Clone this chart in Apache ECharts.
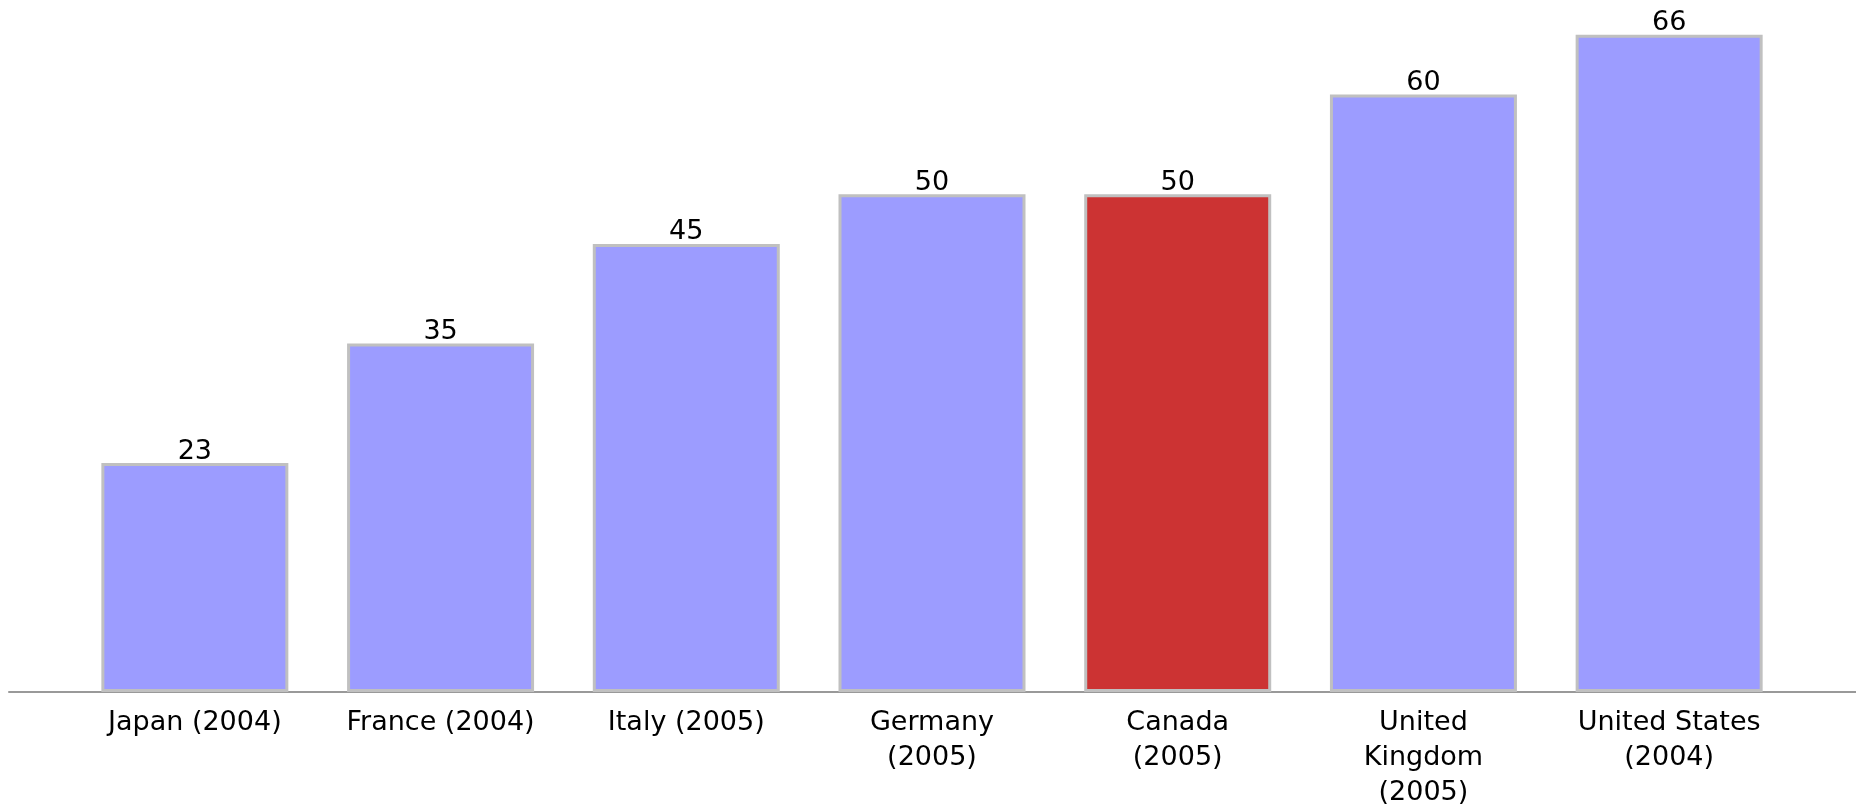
<!DOCTYPE html>
<html>
<head>
<meta charset="utf-8">
<style>
    html, body { margin: 0; padding: 0; background: #fff; }
    #chart { width: 1856px; height: 804px; }
</style>
<script src="https://cdn.jsdelivr.net/npm/echarts@6/dist/echarts.min.js"></script>
</head>
<body>
<div id="chart"></div>
<script>
    // data
    var categories = ['Japan (2004)', 'France (2004)', 'Italy (2005)', 'Germany\n(2005)',
        'Canada\n(2005)', 'United\nKingdom\n(2005)', 'United States\n(2004)'];
    var values = [23, 35, 45, 50, 50, 60, 66];
    var highlighted = 'Canada\n(2005)';

    var barColor = '#9c9cff';
    var hiColor = '#cc3333';
    var font = 'DejaVu Sans';

    var chart = echarts.init(document.getElementById('chart'));

    var option = {
        animation: false,
        grid: [
            {left: 72, right: 64, top: 0, bottom: 112, outerBoundsMode: 'none', containLabel: false},
            {left: 9, right: 0, top: 0, bottom: 112, outerBoundsMode: 'none', containLabel: false}
        ],
        xAxis: [
            {
                type: 'category',
                gridIndex: 0,
                data: categories,
                axisLine: {show: false},
                axisTick: {show: false},
                axisLabel: {
                    interval: 0,
                    margin: 13,
                    color: '#000',
                    fontFamily: font,
                    fontSize: 27,
                    lineHeight: 35
                }
            },
            {
                // baseline runs across the whole width, wider than the bars' grid
                type: 'category',
                gridIndex: 1,
                data: [''],
                axisLine: {show: true, lineStyle: {color: '#999999', width: 2}},
                axisTick: {show: false},
                axisLabel: {show: false}
            }
        ],
        yAxis: [
            {type: 'value', gridIndex: 0, min: 0, max: 69.5, show: false, splitLine: {show: false}},
            {type: 'value', gridIndex: 1, show: false, splitLine: {show: false}}
        ],
        series: [
            {
                type: 'bar',
                xAxisIndex: 0,
                yAxisIndex: 0,
                barWidth: 187,
                z: 3,
                itemStyle: {color: barColor, borderColor: '#c0c0c0', borderWidth: 3},
                label: {
                    show: true,
                    position: 'top',
                    distance: -2,
                    color: '#000',
                    fontFamily: font,
                    fontSize: 27,
                    lineHeight: 27
                },
                data: values.map(function (v, i) {
                    var item = {value: v};
                    if (categories[i] === highlighted) {
                        item.itemStyle = {color: hiColor};
                    }
                    return item;
                })
            }
        ]
    };

    chart.setOption(option);
</script>
</body>
</html>
